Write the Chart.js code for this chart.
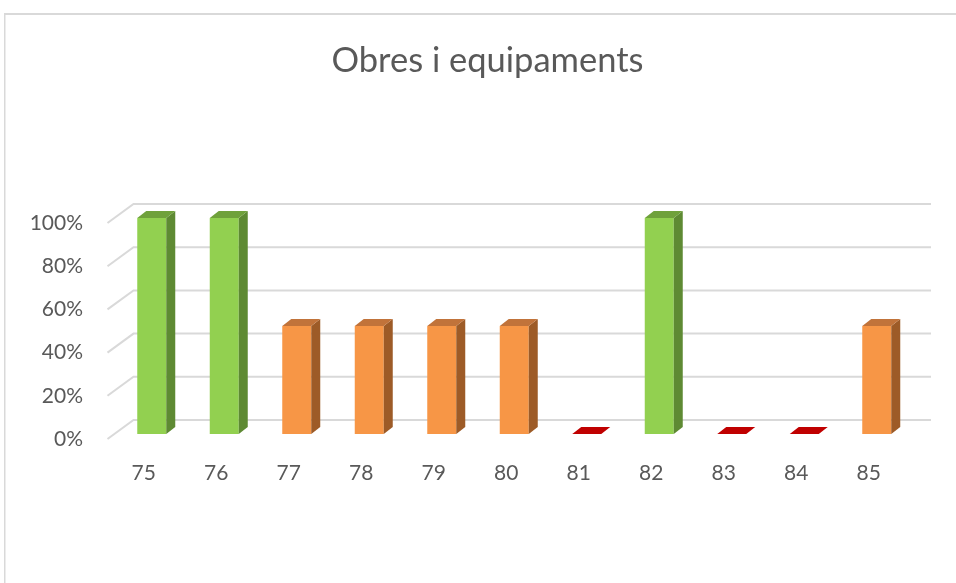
<!DOCTYPE html>
<html><head><meta charset="utf-8">
<script src="https://cdn.jsdelivr.net/npm/chart.js@4.4.0/dist/chart.umd.min.js"></script>
<style>html,body{margin:0;padding:0;background:#fff;overflow:hidden}canvas{display:block}</style>
</head><body>
<canvas id="c" width="956" height="583"></canvas>
<script>
const categories = ['75','76','77','78','79','80','81','82','83','84','85'];
const values = [100,100,50,50,50,50,0,100,0,0,50];
const yTickValues = [0,20,40,60,80,100];
const titleText = 'Obres i equipaments';

const palette = {
  full: {front:'#92D050', side:'#5E8A33', top:'#6FA13B'},
  half: {front:'#F79646', side:'#9D5B27', top:'#C1733A'},
  zero: {front:'#C00000', side:'#8A0000', top:'#C00000'}
};
function colorFor(v, part){ const k = v >= 100 ? 'full' : (v > 0 ? 'half' : 'zero'); return palette[k][part]; }

const DEPTH = {dx: 9, dy: -7};
const WALL = {dx: 26, dy: -19};
const SHIFT = {dx: 8, dy: -5};

const framePlugin = {
  id: 'frame',
  beforeDraw(chart){
    const c = chart.ctx; c.save();
    c.fillStyle = '#fff'; c.fillRect(0,0,chart.width,chart.height);
    c.fillStyle = '#d9d9d9';
    c.fillRect(4,13,chart.width-4,2);
    c.fillRect(4,13,1.5,chart.height-13);
    c.restore();
  }
};

const bars3d = {
  id: 'bars3d',
  beforeDatasetsDraw(chart){
    const {ctx, chartArea:a, scales:{y}} = chart;
    ctx.save();
    ctx.strokeStyle = '#d9d9d9'; ctx.lineWidth = 2;
    yTickValues.forEach(v => {
      const yf = y.getPixelForValue(v);
      ctx.beginPath();
      ctx.moveTo(a.left, yf);
      ctx.lineTo(a.left + WALL.dx, yf + WALL.dy);
      ctx.lineTo(a.right + WALL.dx, yf + WALL.dy);
      ctx.stroke();
    });
    ctx.restore();
    ctx.save();
    ctx.translate(SHIFT.dx, SHIFT.dy);
  },
  afterDatasetsDraw(chart){
    const ctx = chart.ctx;
    const meta = chart.getDatasetMeta(0);
    meta.data.forEach((bar, i) => {
      const p = bar.getProps(['x','y','base','width'], true);
      const l = p.x - p.width/2, r = p.x + p.width/2;
      const v = values[i];
      const poly = (pts, col) => { ctx.beginPath(); ctx.moveTo(pts[0][0],pts[0][1]); pts.slice(1).forEach(q=>ctx.lineTo(q[0],q[1])); ctx.closePath(); ctx.fillStyle = col; ctx.fill(); };
      if (v > 0) {
        poly([[r,p.y],[r+DEPTH.dx,p.y+DEPTH.dy],[r+DEPTH.dx,p.base+DEPTH.dy],[r,p.base]], colorFor(v,'side'));
        poly([[l,p.y],[l+DEPTH.dx,p.y+DEPTH.dy],[r+DEPTH.dx,p.y+DEPTH.dy],[r,p.y]], colorFor(v,'top'));
      } else {
        poly([[l,p.base],[l+DEPTH.dx,p.base+DEPTH.dy],[r+DEPTH.dx,p.base+DEPTH.dy],[r,p.base]], colorFor(v,'top'));
      }
    });
    ctx.restore();
  }
};

new Chart(document.getElementById('c'), {
  type: 'bar',
  data: {
    labels: categories,
    datasets: [{
      data: values,
      backgroundColor: values.map(v => colorFor(v,'front')),
      borderWidth: 0,
      categoryPercentage: 1,
      barPercentage: 0.4,
      clip: false
    }]
  },
  options: {
    responsive: false,
    animation: false,
    devicePixelRatio: 1,
    layout: {padding: {left: 25, right: 6, top: 0, bottom: 0}},
    plugins: {
      legend: {display: false},
      tooltip: {enabled: false},
      title: {
        display: true, text: titleText, color: '#595959',
        font: {family: 'Lato', size: 34.5, weight: 'normal', lineHeight: 1.2},
        padding: {top: 40, bottom: 141.6}
      }
    },
    scales: {
      x: {
        type: 'category', offset: true,
        grid: {display: false, drawTicks: false},
        border: {display: false},
        ticks: {color: '#595959', font: {family: 'Lato', size: 21}, padding: 22, maxRotation: 0, autoSkip: false},
        afterFit(s){ s.height = 144; }
      },
      y: {
        min: 0, max: 100,
        grid: {display: false, drawTicks: false},
        border: {display: false},
        afterBuildTicks(s){ s.ticks = yTickValues.map(v => ({value: v})); },
        ticks: {color: '#595959', font: {family: 'Lato', size: 21}, padding: 24.5, callback: v => v + '%'},
        afterFit(s){ s.width = 82.5; }
      },
      spacer: {
        type: 'linear', position: 'right', display: true,
        grid: {display: false, drawTicks: false},
        border: {display: false},
        ticks: {display: false},
        afterFit(s){ s.width = 45; }
      }
    }
  },
  plugins: [framePlugin, bars3d]
});
</script>
</body></html>
